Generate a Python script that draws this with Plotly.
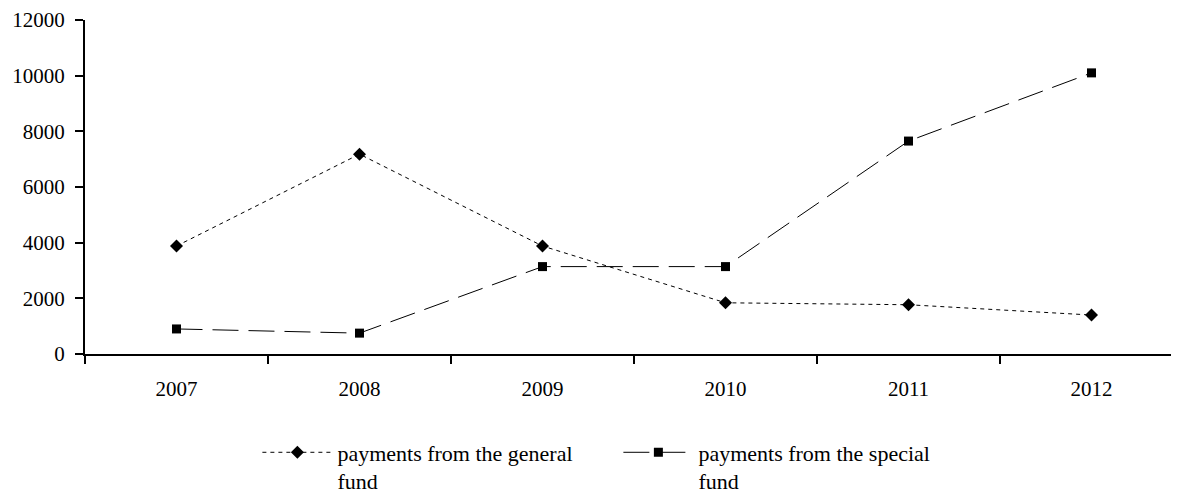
import plotly.graph_objects as go

years = ["2007", "2008", "2009", "2010", "2011", "2012"]
general_fund = [3880, 7180, 3880, 1840, 1770, 1400]
special_fund = [900, 750, 3140, 3140, 7650, 10100]

y_ticks = [0, 2000, 4000, 6000, 8000, 10000, 12000]
y_tick_labels = ["0", "2000", "4000", "6000", "8000", "10000", "12000"]

serif = "Liberation Serif, Times New Roman, serif"
tick_font = dict(family=serif, size=21, color="black")
legend_font = dict(family=serif, size=22, color="black")

fig = go.Figure()
fig.add_trace(go.Scatter(
    x=years, y=general_fund, mode="lines+markers",
    name="payments from the general<br>fund",
    line=dict(color="black", width=1, dash="4px,4px"),
    marker=dict(symbol="diamond", size=10, color="black"),
))
fig.add_trace(go.Scatter(
    x=years, y=special_fund, mode="lines+markers",
    name="payments from the special<br>fund",
    line=dict(color="black", width=1, dash="26px,10px"),
    marker=dict(symbol="square", size=9, color="black"),
))

fig.update_layout(
    width=1179, height=493, autosize=False,
    margin=dict(l=77, r=4, t=12, b=147, autoexpand=False),
    paper_bgcolor="white", plot_bgcolor="white",
    font=tick_font,
    showlegend=True,
    legend=dict(
        orientation="h", x=0.157, y=-0.232, xanchor="left", yanchor="top",
        font=legend_font, entrywidth=276, entrywidthmode="pixels",
        itemwidth=70, valign="top",
        bgcolor="rgba(0,0,0,0)",
    ),
    xaxis=dict(
        type="category", showline=True, linecolor="black", linewidth=2,
        ticks="outside", tickson="boundaries", ticklen=8, tickcolor="black",
        tickwidth=2, showgrid=False, zeroline=False, automargin=False,
        range=[-0.5, 5.5], ticklabelstandoff=15, tickfont=tick_font,
    ),
    yaxis=dict(
        range=[0, 12000], tickvals=y_ticks, ticktext=y_tick_labels,
        showline=True, linecolor="black", automargin=False,
        linewidth=2, ticks="outside", ticklen=8, tickcolor="black",
        tickwidth=2, showgrid=False, zeroline=False, ticklabelstandoff=6,
        tickfont=tick_font,
    ),
)

fig.write_html("out.html")
